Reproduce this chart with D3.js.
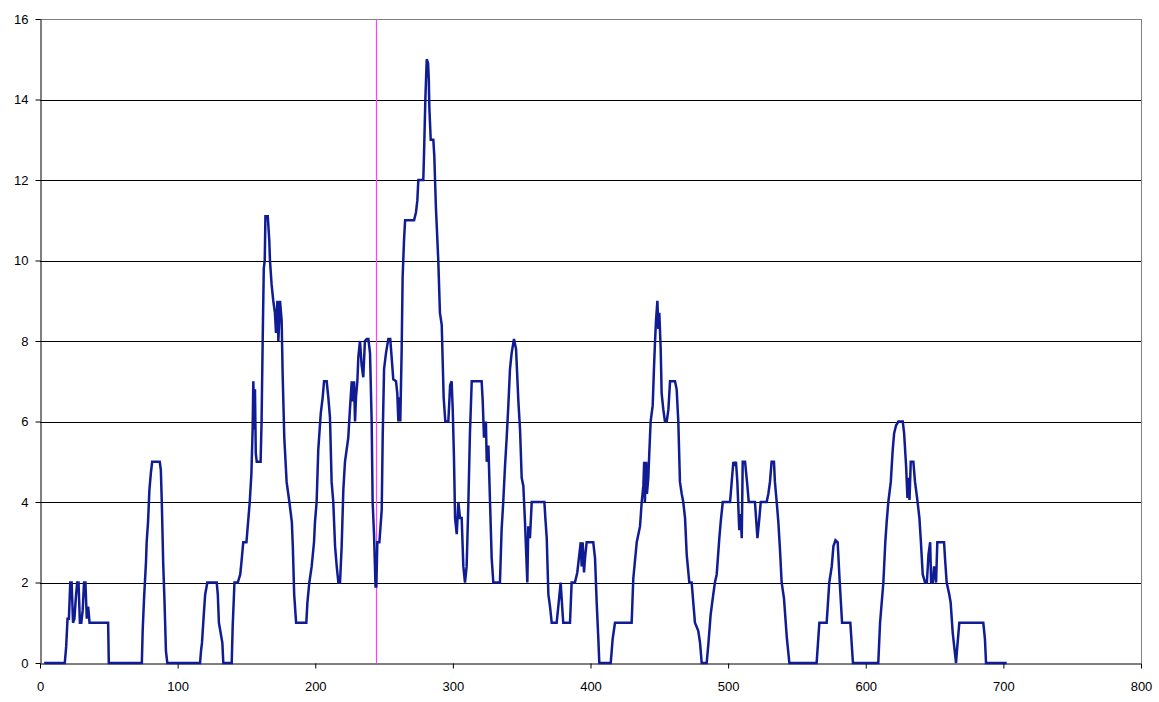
<!DOCTYPE html>
<html>
<head>
<meta charset="utf-8">
<script src="https://cdn.jsdelivr.net/npm/d3@7"></script>
<style>
  html, body { margin: 0; padding: 0; background: #ffffff; }
  svg { display: block; }
  .axis text { font-family: "Liberation Sans", Arial, sans-serif; font-size: 13px; fill: #000; }
</style>
</head>
<body>
<svg id="chart" width="1159" height="702"></svg>
<script>
// Axis ticks
const xTicks = [0, 100, 200, 300, 400, 500, 600, 700, 800];
const yTicks = [0, 2, 4, 6, 8, 10, 12, 14, 16];
const gridValues = [2, 4, 6, 8, 10, 12, 14];

// Position of the vertical marker
const markerX = 244;

// Sampled trace: positions and matching values
const seriesX = [
  3, 18, 19, 20, 21, 22, 23, 24, 25, 26, 27, 28, 29, 30, 31, 32, 33, 34, 35, 36, 49.5, 50, 74,
  74.6, 75.6, 77, 77.5, 78.5, 79.5, 80.5, 81.5, 87, 87.8, 88.5, 89.5, 90.5, 91.5, 92.5,
  116.3, 117, 117.7, 119, 120, 121.6, 128.4, 129.2, 130, 131, 132.5, 133.2, 139.3, 140, 141.3, 143.7, 145.5, 146.5, 147.7, 150, 151.2, 152.4, 153.6,
  154.5, 155, 155.6, 156.2, 156.8, 157.5, 160.3, 161, 161.8, 162.6, 163.3, 163.8, 165.5, 166.6, 167.1, 168.3, 169.5, 170.7, 171.5, 172.5, 173.2, 174.4, 175.6, 176.3, 177.5, 179.2, 181.2, 183, 183.7, 184.7, 186.1,
  193.5, 194.3, 195.7, 197.4, 199.1, 199.8, 201, 202.2, 204, 205.4, 206.4, 208.3, 209.5, 210.7, 211.9, 213.1, 214.4, 215.6, 216.8, 218, 219.2, 220.4, 221.6, 224, 225.2, 226.5, 227.2, 228.2, 228.9, 229.6, 230.6, 231.3, 232.5, 233.7, 234.9, 236.1, 237.4, 238.6, 239.8, 241, 241.7, 242.7, 243.8, 244.4, 245.1, 246.6, 248.3, 249, 250, 251.4, 253.1, 254.5, 255.5, 256.7, 258.7, 259.6, 260.4, 261.1, 261.8,
  262.8, 263.5, 264.5, 265.3, 271.8, 273.2, 274.2, 274.9, 278.5, 279, 280, 281, 282, 282.5, 282.9, 283.9, 285.8, 286.5, 287.7, 289.4, 290.6, 291.9, 292.6, 293.3, 294.5, 296.7, 298, 299.1, 299.9, 300.8, 301.6, 302.8, 304, 305.2, 306.4, 307.6, 308.8, 310, 311.2, 312.4, 313.7, 320.9, 321.7, 322.6, 324, 324.6, 325.8, 327, 328.2, 329.4,
  334.2, 335.4, 336.6, 337.9, 339.1, 340.3, 341.5, 342.7, 344.4, 345.9, 347.6, 348.8, 350, 351.2, 352.4, 354.1, 354.8, 356, 357.3, 366.5, 367.2, 368.2, 369.4, 370.6, 371.8, 375.4, 376.6, 378.3, 379.8, 380.2, 385.1, 386.3, 388.7, 390.4, 391.9, 392.9, 393.6, 394.3, 395.3, 396, 397.2, 402, 403.3, 404.5, 405.7, 406.4,
  414.7, 416.1, 417.8, 429.9, 431.1, 433.6, 436, 437.2, 438.4, 439, 439.5, 440.5, 441, 442, 442.7, 443.7, 445.2, 446.1, 446.9, 447.6, 448.6, 449.3, 450, 451, 451.7, 452.9, 454.1, 455.4, 456.6, 457.8, 461.4, 462.6, 463.8, 465, 466.3, 467.4, 468.7, 469.9, 471.8, 473.5, 474.7, 475.9, 478.3, 479.6, 480.8,
  484.4, 485.6, 487.3, 488.8, 490.4, 491.7, 493.6, 494.6, 496.1, 501.4, 502.6, 503.8, 504.6, 505.7, 506.7, 508.1, 509.1, 509.9, 510.6, 512.3, 514, 515, 519.5, 520.3, 521.3, 522.7, 523.7, 528, 529.2, 530.4, 531.6, 533.3, 534, 535.3, 536.5, 537.7, 538.9, 540.6, 542.6, 544.5,
  564.3, 566.3, 571.6, 573.5, 575.3, 576.5, 578, 579.6, 581.1, 582.8, 588.8, 590.7,
  609.1, 610.4, 612.8, 614.2, 615.2, 616.4, 618.2, 619.6, 620.6, 622, 623.7, 626.9, 627.9, 629.3, 630.3, 631, 631.8, 632.7, 634.6, 635.8, 637.5, 639, 640, 641.4, 643.1, 644.4, 645.6, 646.8, 647.5, 648.7, 649.6, 651.1, 652, 656.9, 657.6, 658.8, 660.7, 661.7, 663.2, 664.3, 665.6, 666.5, 668, 685.4, 686.6, 687.4, 702.4
];
const seriesY = [
  0, 0, 0.4, 1.1, 1.1, 2, 2, 1, 1.1, 1.6, 2, 2, 1, 1, 1.3, 2, 2, 1.1, 1.4, 1, 1, 0, 0,
  0.8, 1.6, 2.5, 3, 3.5, 4.3, 4.7, 5, 5, 4.8, 4, 2.5, 1.5, 0.3, 0,
  0, 0.3, 0.5, 1.2, 1.7, 2, 2, 1.7, 1, 0.8, 0.5, 0, 0, 0.9, 2, 2, 2.2, 2.55, 3, 3, 3.5, 4, 4.7,
  5.8, 7, 5.8, 6.8, 5.2, 5, 5, 6, 8, 9.8, 10, 11.1, 11.1, 10.5, 10, 9.4, 9, 8.7, 8.2, 9, 8, 9, 8.5, 7.2, 5.6, 4.5, 4, 3.5, 2.9, 1.7, 1,
  1, 1.5, 2, 2.4, 3, 3.5, 4, 5.3, 6.2, 6.6, 7, 7, 6.6, 6.1, 4.5, 4, 2.9, 2.4, 2, 2, 2.9, 4.3, 5, 5.6, 6.3, 7, 6.5, 7, 6, 6.6, 7, 7.6, 8, 7.4, 7.1, 8, 8.05, 8.05, 7.7, 6, 4, 3.2, 1.9, 1.9, 3, 3, 3.8, 5.6, 7.3, 7.7, 8.05, 8.05, 7.6, 7.05, 7, 6.7, 6, 6.6, 6,
  7.8, 9.6, 10.5, 11, 11, 11.2, 11.5, 12, 12, 12.6, 14, 15, 14.9, 14.5, 13.8, 13, 13, 12.6, 11.3, 10, 8.7, 8.4, 7.5, 6.6, 6, 6, 6.9, 7, 6.3, 5.1, 3.6, 3.2, 4, 3.6, 3.6, 2.4, 2, 2.4, 3.9, 5.7, 7, 7, 6.5, 5.6, 6, 5, 5.4, 4, 2.6, 2,
  2, 3.3, 4, 4.9, 5.6, 6.4, 7.3, 7.7, 8.05, 7.8, 6.5, 5.8, 4.6, 4.4, 3.5, 2, 3.4, 3.1, 4, 4, 3.6, 3.1, 1.7, 1.4, 1, 1, 1.4, 2, 1.2, 1, 1, 2, 2, 2.25, 2.7, 3, 2.4, 3, 2.25, 2.6, 3, 3, 2.6, 1.5, 0.6, 0,
  0, 0.6, 1, 1, 2.1, 3, 3.4, 4, 4.4, 5, 4, 5, 4.2, 4.6, 5.2, 6, 6.4, 7.3, 8, 8.5, 9, 8.3, 8.7, 7.8, 6.7, 6.3, 6, 6, 6.3, 7, 7, 6.8, 6, 4.5, 4.2, 4, 3.6, 2.7, 2, 2, 1.5, 1, 0.8, 0.5, 0,
  0, 0.45, 1.2, 1.6, 2, 2.2, 3.1, 3.5, 4, 4, 4.5, 5, 4.9, 5, 4.5, 3.3, 3.7, 3.1, 5, 5, 4.4, 4, 4, 3.6, 3.1, 3.6, 4, 4, 4.2, 4.5, 5, 5, 4.5, 4, 3.5, 2.8, 2, 1.6, 0.65, 0,
  0, 1, 1, 2, 2.4, 2.9, 3.05, 3, 2, 1, 1, 0,
  0, 1, 2, 3, 3.5, 4, 4.5, 5.3, 5.7, 5.9, 6, 6, 5.7, 4.9, 4.1, 4.6, 4.05, 5, 5, 4.5, 4.05, 3.6, 3.05, 2.2, 2, 2, 2.7, 3, 2, 2, 2.4, 2, 3, 3, 2.6, 2, 1.7, 1.5, 0.75, 0.4, 0, 0.4, 1, 1, 0.6, 0, 0
];

const svg = d3.select("#chart");
const margin = { left: 40, right: 18, top: 19, bottom: 39 };
const W = 1159, H = 702;

const x = d3.scaleLinear().domain([0, 800]).range([margin.left, W - margin.right]);
const y = d3.scaleLinear().domain([0, 16]).range([H - margin.bottom, margin.top]);

// Plot area frame (top and right edges in grey)
svg.append("line")
  .attr("x1", x(0)).attr("x2", x(800))
  .attr("y1", y(16) + 0.5).attr("y2", y(16) + 0.5)
  .attr("stroke", "#808080").attr("stroke-width", 1);
svg.append("line")
  .attr("x1", x(800) + 0.5).attr("x2", x(800) + 0.5)
  .attr("y1", y(16)).attr("y2", y(0))
  .attr("stroke", "#808080").attr("stroke-width", 1);

// Horizontal gridlines
svg.append("g").selectAll("line")
  .data(gridValues)
  .join("line")
  .attr("x1", x(0)).attr("x2", x(800))
  .attr("y1", d => Math.round(y(d)) + 0.5).attr("y2", d => Math.round(y(d)) + 0.5)
  .attr("stroke", "#000").attr("stroke-width", 1);

// Vertical marker
svg.append("line")
  .attr("x1", Math.round(x(markerX)) + 0.5).attr("x2", Math.round(x(markerX)) + 0.5)
  .attr("y1", y(16)).attr("y2", y(0))
  .attr("stroke", "#ff40ff").attr("stroke-width", 1.2);

// Axes
const xAxis = d3.axisBottom(x).tickValues(xTicks).tickFormat(d3.format("d"))
  .tickSizeInner(5).tickSizeOuter(0).tickPadding(13);
svg.append("g").attr("class", "axis")
  .attr("transform", `translate(0,${Math.round(y(0)) + 0.5})`)
  .call(xAxis)
  .call(g => g.select(".domain").attr("stroke", "#000"))
  .call(g => g.selectAll(".tick line").attr("stroke", "#000"));

const yAxis = d3.axisLeft(y).tickValues(yTicks).tickFormat(d3.format("d"))
  .tickSizeInner(5).tickSizeOuter(0).tickPadding(7);
svg.append("g").attr("class", "axis")
  .attr("transform", `translate(${Math.round(x(0)) + 0.5},0)`)
  .call(yAxis)
  .call(g => g.select(".domain").attr("stroke", "#000"))
  .call(g => g.selectAll(".tick line").attr("stroke", "#000"));

// Series line
const pts = seriesX.map((v, i) => [v, seriesY[i]]);
const line = d3.line().x(d => x(d[0])).y(d => y(d[1]));
svg.append("path")
  .datum(pts)
  .attr("d", line)
  .attr("fill", "none")
  .attr("stroke", "#0f1c94")
  .attr("stroke-width", 2.5)
  .attr("stroke-linejoin", "miter")
  .attr("stroke-miterlimit", 2);
</script>
</body>
</html>
